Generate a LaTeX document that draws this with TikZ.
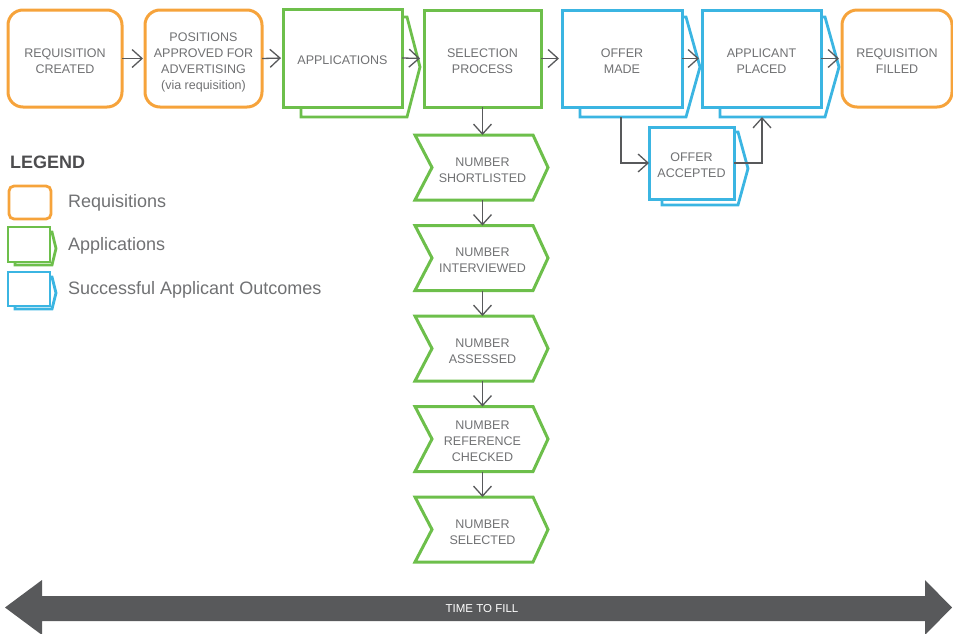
\documentclass[tikz,border=0pt]{standalone}
\usepackage{fontspec}
\setmainfont{Liberation Sans}
\usetikzlibrary{arrows.meta,calc,backgrounds}
\definecolor{orng}{HTML}{F6A33B}
\definecolor{grn}{HTML}{6DBF4B}
\definecolor{blu}{HTML}{3BB5E2}
\definecolor{agray}{HTML}{58595B}
\definecolor{tgray}{HTML}{707173}
\definecolor{lgray}{HTML}{4D4D4F}
% #1 colour, #2 node, #3 left inset, #4 top drop, #5 right corner out, #6 apex out, #7 bottom drop
\newcommand\backshape[7]{%
  \begin{scope}[on background layer]
  \draw[line width=2.8pt, draw=#1, line join=miter]
    ($(#2.north west)+(#3,-#4)$) -- ($(#2.north east)+(#5,-#4)$) --
    ($(#2.east)+(#6,{-(#4+#7)/2})$) -- ($(#2.south east)+(#5,-#7)$) --
    ($(#2.south west)+(#3,-#7)$) -- cycle;
  \end{scope}}
\newcommand\chevshape[1]{%
  \draw[draw=grn, line width=3pt, line join=miter]
    ($(#1.north west)+(-17,0)$) -- (#1.north east) -- ($(#1.east)+(15,0)$) --
    (#1.south east) -- ($(#1.south west)+(-17,0)$) -- (#1.west) -- cycle;}
\newcommand\tx[1]{\raisebox{0pt}[\dimexpr\height+7pt\relax][\depth]{\begin{tabular}{@{}c@{}}#1\end{tabular}}}
\tikzset{
  boxtext/.style={font=\fontsize{12.5}{16}\selectfont, text=tgray, inner sep=0pt, outer sep=0pt},
  obox/.style={boxtext, draw=orng, line width=3pt, rounded corners=15pt, fill=white},
  gbox/.style={boxtext, draw=grn, line width=3pt, fill=white},
  bbox/.style={boxtext, draw=blu, line width=3pt, fill=white},
  chevnode/.style={boxtext, minimum width=101, minimum height=65},
  arr/.style={draw=agray, line width=1.3pt, -{Straight Barb[length=10pt,width=18pt,line width=1.3pt]}},
  legtext/.style={font=\fontsize{18}{20}\selectfont, text=tgray, anchor=west, inner sep=0pt}
}
\begin{document}
\begin{tikzpicture}[x=1pt,y=1pt]
\useasboundingbox (0,0) rectangle (953,-633);
% top row
\node[obox, minimum width=114, minimum height=97] (req) at (65,-58.5) {\tx{REQUISITION\\CREATED}};
\node[obox, minimum width=117, minimum height=97] (pos) at (203.5,-58.5) {\tx{POSITIONS\\APPROVED FOR\\ADVERTISING\\(via requisition)}};
\node[gbox, minimum width=119, minimum height=98] (app) at (342.5,-58) {\tx{APPLICATIONS}};
\backshape{grn}{app}{18}{8}{5}{18}{10}
\node[gbox, minimum width=117, minimum height=97] (sel) at (482.5,-58.5) {\tx{SELECTION\\PROCESS}};
\node[bbox, minimum width=120, minimum height=97] (offer) at (622,-58.5) {\tx{OFFER\\MADE}};
\backshape{blu}{offer}{18}{7}{4}{18}{10}
\node[bbox, minimum width=119, minimum height=97] (placed) at (761.5,-58.5) {\tx{APPLICANT\\PLACED}};
\backshape{blu}{placed}{18}{7}{4}{18}{10}
\node[obox, minimum width=110, minimum height=97] (filled) at (897,-58.5) {\tx{REQUISITION\\FILLED}};
% offer accepted
\node[bbox, minimum width=85, minimum height=72] (acc) at (691.5,-163) {\tx{OFFER\\ACCEPTED}};
\backshape{blu}{acc}{13}{5}{4}{14}{6}
% chevrons
\node[chevnode] (c1) at (482.5,-167.5) {\tx{NUMBER\\SHORTLISTED}};
\chevshape{c1}
\node[chevnode] (c2) at (482.5,-258) {\tx{NUMBER\\INTERVIEWED}};
\chevshape{c2}
\node[chevnode] (c3) at (482.5,-348.5) {\tx{NUMBER\\ASSESSED}};
\chevshape{c3}
\node[chevnode] (c4) at (482.5,-439) {\tx{NUMBER\\REFERENCE\\CHECKED}};
\chevshape{c4}
\node[chevnode] (c5) at (482.5,-529.5) {\tx{NUMBER\\SELECTED}};
\chevshape{c5}
% connectors
\draw[arr, shorten >=2pt] (req.east) -- (pos.west);
\draw[arr, shorten >=2pt] (pos.east) -- (app.west);
\draw[arr, shorten >=4pt] (app.east) -- (sel.west);
\draw[arr, shorten >=3pt] (sel.east) -- (offer.west);
\draw[arr, shorten >=3pt] (offer.east) -- (placed.west);
\draw[arr, shorten >=3pt] (placed.east) -- (filled.west);
\draw[arr] (sel.south) -- (c1.north);
\draw[arr] (c1.south) -- (c2.north);
\draw[arr] (c2.south) -- (c3.north);
\draw[arr] (c3.south) -- (c4.north);
\draw[arr] (c4.south) -- (c5.north);
\coordinate (offerback) at ($(offer.south)+(-1,-10)$);
\coordinate (placedback) at ($(placed.south)+(0.5,-10)$);
\draw[arr] (offerback) |- (acc.west);
\draw[arr] (acc.east) -| (placedback);
% legend
\node[anchor=west, inner sep=0pt, font=\fontsize{18}{20}\selectfont\bfseries, text=lgray] (leg) at (10,-162) {LEGEND};
\node[obox, rounded corners=5pt, line width=2.8pt, minimum width=42, minimum height=33] (lo) at (30,-202.5) {};
\node[gbox, line width=2.8pt, minimum width=42, minimum height=35] (lg) at (29,-244.5) {};
\backshape{grn}{lg}{7}{5}{2}{6}{3}
\node[bbox, line width=2.8pt, minimum width=42, minimum height=34] (lb) at (29,-289) {};
\backshape{blu}{lb}{7}{5}{2}{6}{3}
\node[legtext] (tlo) at (68,-202.5) {Requisitions};
\node[legtext] (tlg) at (68,-246) {Applications};
\node[legtext] (tlb) at (68,-290) {Successful Applicant Outcomes};
% time to fill arrow
\fill[agray] (5,-607.5) -- (42,-580) -- (42,-596) -- (925,-596) -- (925,-580) -- (952,-607.5)
  -- (925,-635) -- (925,-621) -- (42,-621) -- (42,-635) -- cycle;
\node[font=\fontsize{11.5}{13}\selectfont, text=white, inner sep=0pt] (ttf) at (482,-608.5) {TIME TO FILL};
\end{tikzpicture}
\end{document}
